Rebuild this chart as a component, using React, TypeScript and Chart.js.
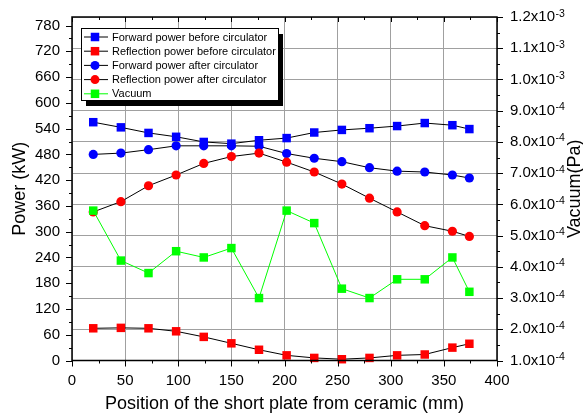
import React, { useEffect, useRef } from 'react';
import { Chart, registerables } from 'chart.js';

Chart.register(...registerables);

// ---- data ----
const positions = [20, 46, 72, 98, 124, 150, 176, 202, 228, 254, 280, 306, 332, 358, 374];
const forwardBefore = [555, 543, 530, 521, 509, 505, 513, 518, 531, 537, 541, 546, 553, 548, 539];
const reflectionBefore = [75, 76, 75, 68, 55, 40, 25, 12, 6, 3, 6, 12, 14, 30, 39];
const forwardAfter = [480, 483, 491, 500, 500, 500, 499, 482, 471, 463, 449, 441, 439, 432, 425];
const reflectionAfter = [346, 370, 407, 432, 459, 475, 483, 462, 439, 411, 378, 346, 314, 301, 289];
const vacuum = [5.8e-4, 4.2e-4, 3.8e-4, 4.5e-4, 4.3e-4, 4.6e-4, 3.0e-4, 5.8e-4, 5.4e-4, 3.3e-4, 3.0e-4, 3.6e-4, 3.6e-4, 4.3e-4, 3.2e-4];

const xTicks = [0, 50, 100, 150, 200, 250, 300, 350, 400];
const powerTicks = [0, 60, 120, 180, 240, 300, 360, 420, 480, 540, 600, 660, 720, 780];
const vacuumTicks = [1e-4, 2e-4, 3e-4, 4e-4, 5e-4, 6e-4, 7e-4, 8e-4, 9e-4, 1.0e-3, 1.1e-3, 1.2e-3];

const seriesLabels = [
  'Forward power before circulator',
  'Reflection power before circulator',
  'Forward power after circulator',
  'Reflection power after circulator',
  'Vacuum',
];
const seriesColors = ['#0000ff', '#ff0000', '#0000ff', '#ff0000', '#00ff00'];
const seriesShapes = ['rect', 'rect', 'circle', 'circle', 'rect'];
const seriesLines = ['#000000', '#000000', '#000000', '#000000', '#00ff00'];

const xTitle = 'Position of the short plate from ceramic (mm)';
const yTitle = 'Power (kW)';
const y1Title = 'Vacuum(Pa)';

const FONT = '"Liberation Sans", Arial, sans-serif';

function sciParts(v: number) {
  const e = Math.floor(Math.log10(v) + 1e-9);
  const m = v / Math.pow(10, e);
  return { m: m.toFixed(1), e: String(e) };
}

const decor = {
  id: 'decor',
  afterDraw(chart: any) {
    const { ctx, chartArea: a, scales } = chart;
    const sx = scales.x, sy = scales.y, sy1 = scales.y1;
    ctx.save();
    const line = (x1: number, y1: number, x2: number, y2: number) => {
      ctx.beginPath();
      ctx.moveTo(x1, y1);
      ctx.lineTo(x2, y2);
      ctx.stroke();
    };
    // frame
    ctx.strokeStyle = '#000';
    ctx.lineWidth = 1.5;
    ctx.strokeRect(a.left, a.top, a.right - a.left, a.bottom - a.top);

    // tick marks
    ctx.lineWidth = 1;
    for (let v = 0; v <= 400; v += 25) {
      const px = Math.round(sx.getPixelForValue(v)) + 0.5;
      const major = v % 50 === 0;
      line(px, a.bottom, px, a.bottom + (major ? 6 : 3));
      line(px, a.top, px, a.top + (major ? 5 : 3));
    }
    for (let v = 0; v <= 800; v += 30) {
      const py = Math.round(sy.getPixelForValue(v)) + 0.5;
      const major = v % 60 === 0;
      line(a.left, py, a.left - (major ? 6 : 3), py);
    }
    for (let i = 2; i <= 24; i++) {
      const v = i * 0.5e-4;
      const py = Math.round(sy1.getPixelForValue(v)) + 0.5;
      const major = i % 2 === 0;
      line(a.right, py, a.right + (major ? 6 : 3), py);
    }

    // tick labels
    ctx.fillStyle = '#000';
    ctx.font = `15px ${FONT}`;
    ctx.textAlign = 'center';
    ctx.textBaseline = 'middle';
    xTicks.forEach((v) => {
      ctx.fillText(String(v), sx.getPixelForValue(v), a.bottom + 20);
    });
    ctx.textAlign = 'right';
    powerTicks.forEach((v) => {
      ctx.fillText(String(v), a.left - 12, sy.getPixelForValue(v));
    });
    ctx.textAlign = 'left';
    vacuumTicks.forEach((v) => {
      const { m, e } = sciParts(v);
      const py = sy1.getPixelForValue(v);
      ctx.font = `15px ${FONT}`;
      ctx.textBaseline = 'middle';
      const main = `${m}x10`;
      ctx.fillText(main, a.right + 13, py);
      const w = ctx.measureText(main).width;
      ctx.font = `10.5px ${FONT}`;
      ctx.textBaseline = 'alphabetic';
      ctx.fillText(e, a.right + 13 + w + 0.5, py - 0.5);
    });

    // titles
    ctx.font = `18px ${FONT}`;
    ctx.textAlign = 'center';
    ctx.textBaseline = 'middle';
    ctx.fillText(xTitle, (a.left + a.right) / 2, 404);
    const cy = (a.top + a.bottom) / 2;
    ctx.save();
    ctx.translate(20, cy);
    ctx.rotate(-Math.PI / 2);
    ctx.fillText(yTitle, 0, 0);
    ctx.restore();
    ctx.save();
    ctx.translate(575, cy);
    ctx.rotate(-Math.PI / 2);
    ctx.fillText(y1Title, 0, 0);
    ctx.restore();

    // legend
    const lx = 81, ly = 28, lw = 197, lh = 72;
    ctx.fillStyle = '#000';
    ctx.fillRect(lx + 5, ly + 6, lw, lh);
    ctx.fillStyle = '#fff';
    ctx.fillRect(lx, ly, lw, lh);
    ctx.strokeStyle = '#000';
    ctx.lineWidth = 1;
    ctx.strokeRect(lx + 0.5, ly + 0.5, lw, lh);
    ctx.font = `11px ${FONT}`;
    ctx.textAlign = 'left';
    ctx.textBaseline = 'middle';
    seriesLabels.forEach((label, i) => {
      const ry = ly + 9 + i * 14.2;
      ctx.strokeStyle = seriesLines[i];
      ctx.lineWidth = 1;
      line(lx + 3, ry, lx + 27, ry);
      ctx.fillStyle = seriesColors[i];
      const mx = lx + 14;
      if (seriesShapes[i] === 'rect') {
        ctx.fillRect(mx - 4.25, ry - 4.25, 8.5, 8.5);
      } else {
        ctx.beginPath();
        ctx.arc(mx, ry, 4.5, 0, Math.PI * 2);
        ctx.fill();
      }
      ctx.fillStyle = '#000';
      ctx.fillText(label, lx + 31, ry + 0.5);
    });
    ctx.restore();
  },
};

export default function App() {
  const ref = useRef<HTMLCanvasElement | null>(null);
  useEffect(() => {
    document.body.style.margin = '0';
    const canvas = ref.current;
    if (!canvas) return;
    const series = [forwardBefore, reflectionBefore, forwardAfter, reflectionAfter, vacuum];
    const datasets = series.map((vals, i) => ({
      label: seriesLabels[i],
      data: positions.map((p, j) => ({ x: p, y: vals[j] })),
      yAxisID: i === 4 ? 'y1' : 'y',
      borderColor: seriesLines[i],
      borderWidth: 1,
      tension: 0,
      fill: false,
      pointStyle: seriesShapes[i],
      pointRadius: seriesShapes[i] === 'rect' ? 6 : 4.6,
      pointBackgroundColor: seriesColors[i],
      pointBorderColor: seriesColors[i],
      pointBorderWidth: 0,
      clip: false,
      order: 5 - i,
    }));
    const chart = new Chart(canvas, {
      type: 'line',
      data: { datasets } as any,
      options: {
        responsive: false,
        animation: false,
        events: [],
        layout: { padding: { top: 17, left: 0, right: 0, bottom: 0 } },
        plugins: { legend: { display: false }, tooltip: { enabled: false } },
        scales: {
          x: {
            type: 'linear',
            min: 0,
            max: 400,
            afterBuildTicks: (s: any) => {
              s.ticks = xTicks.map((v) => ({ value: v }));
            },
            ticks: { display: false },
            grid: { color: '#a0a0a0', lineWidth: 1, drawTicks: false },
            border: { display: false },
            afterFit: (s: any) => {
              s.height = 52.5;
            },
          },
          y: {
            type: 'linear',
            position: 'left',
            min: 0,
            max: 800,
            ticks: { display: false },
            grid: { display: false, drawTicks: false },
            border: { display: false },
            afterFit: (s: any) => {
              s.width = 72;
            },
          },
          y1: {
            type: 'linear',
            position: 'right',
            min: 1e-4,
            max: 1.2e-3,
            afterBuildTicks: (s: any) => {
              s.ticks = vacuumTicks.map((v) => ({ value: v }));
            },
            ticks: { display: false },
            grid: { color: '#a0a0a0', lineWidth: 1, drawTicks: false },
            border: { display: false },
            afterFit: (s: any) => {
              s.width = 86;
            },
          },
        },
      } as any,
      plugins: [decor],
    });
    return () => chart.destroy();
  }, []);
  return (
    <div style={{ width: 583, height: 413 }}>
      <canvas ref={ref} width={583} height={413} style={{ display: 'block' }} />
    </div>
  );
}
